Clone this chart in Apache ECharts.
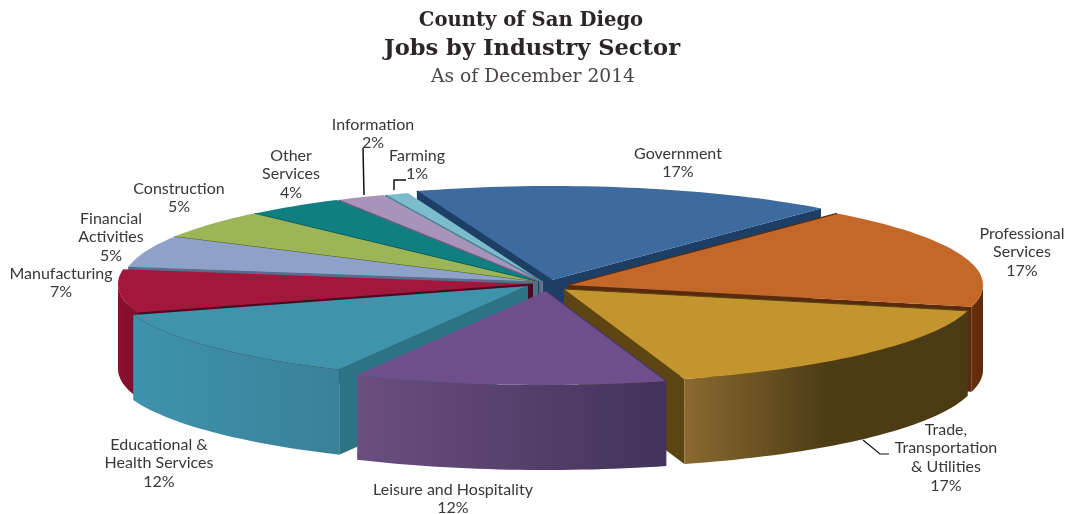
<!DOCTYPE html>
<html><head><meta charset="utf-8">
<style>html,body{margin:0;padding:0;background:#fff}#c{width:1068px;height:514px}</style>
<script src="https://cdn.jsdelivr.net/npm/echarts@6/dist/echarts.min.js"></script>
</head><body><div id="c"></div>
<script>
// ---- data ----
const sectors = ['Government','Professional Services','Trade, Transportation & Utilities','Leisure and Hospitality','Educational & Health Services','Manufacturing','Financial Activities','Construction','Other Services','Information','Farming'];
const shares = [16.5,17.49,16.6,12.2,12.49,7.49,5.49,5,3.9,1.9,0.93];
const labelTexts = ['Government\n17%','Professional\nServices\n17%','Trade,\nTransportation\n& Utilities\n17%','Leisure and Hospitality\n12%','Educational &\nHealth Services\n12%','Manufacturing\n7%','Financial\nActivities\n5%','Construction\n5%','Other\nServices\n4%','Information\n2%','Farming\n1%'];
// ---- styling ----
const topColors = ['#3d6b9f','#c4682a','#c2952e','#6e4f8c','#3f93ab','#a3173c','#8ea1c9','#9bb557','#0f7f82','#a893bb','#7dbccd'];
const cutColors = ['#1d3f66','#5a2a0c','#5c4512','#4a3660','#2c7386','#4a0a20','#5a6c8c','#4d5f20','#0a5052','#6e5c80','#4d8494'];
const wallStops = [
 ['#2a4e78','#2a4e78'],['#6a300c','#5a2a0c'],['#8a6a30','#4d3d15','#4b3b14'],['#6a4f80','#43325a'],
 ['#3f92ad','#398199'],['#8c1030','#7c0e2a'],['#5a6c8c','#5a6c8c'],['#4d5f20','#4d5f20'],['#0a5052','#0a5052'],['#6e5c80','#6e5c80'],['#4d8494','#4d8494']];
const apexX = [552,568,564,546,528,533,538,538,539,541,543];
const apexY = [280,285,289,291,286,284,282,282,282,282,282];
const drawOrder = [0,10,9,8,7,6,5,1,4,2,3];
const labelX = [678,1022,946,453,159,61,111,179,291,373,417];
const labelY = [144,224,420,480,435,264,209,179,146,115,146];
const rx = 415, ry = 94, depth = 85, startAngle = -19;
const total = shares.reduce((a,b)=>a+b,0);
const angles = []; { let c = startAngle; shares.forEach(v=>{ angles.push([c, c+v/total*360]); c += v/total*360; }); }
const rad = d => d*Math.PI/180;
function edge(i,t,dy){ return [apexX[i]+rx*Math.sin(rad(t)), apexY[i]-ry*Math.cos(rad(t))+(dy||0)]; }
function arc(i,a,b,dy){ const out=[]; const n=Math.max(2,Math.ceil((b-a)/1.5)); for(let k=0;k<=n;k++) out.push(edge(i,a+(b-a)*k/n,dy)); return out; }
function renderSlice(params, api){
  const i = api.value(0);
  const [a,b] = angles[i];
  const ax=apexX[i], ay=apexY[i];
  const kids=[];
  const cut=t=>{const e=edge(i,t);return {type:'polygon',shape:{points:[[ax,ay],e,[e[0],e[1]+depth],[ax,ay+depth]]},style:{fill:cutColors[i]}};};
  if(Math.sin(rad(a))<0) kids.push(cut(a));
  if(Math.sin(rad(b))>0) kids.push(cut(b));
  const wa=Math.max(a,90), wb=Math.min(b,270);
  if(wb>wa){
    const up=arc(i,wa,wb,0), down=arc(i,wa,wb,depth).reverse();
    const st=wallStops[i];
    const stops = st.map((c,k)=>({offset:k/(st.length-1),color:c}));
    kids.push({type:'polygon',shape:{points:up.concat(down)},style:{fill:new echarts.graphic.LinearGradient(0,0,1,0,stops)}});
  }
  kids.push({type:'polygon',shape:{points:[[ax,ay]].concat(arc(i,a,b,0))},style:{fill:topColors[i]}});
  kids.push({type:'polyline',shape:{points:[[ax,ay],edge(i,a)]},style:{stroke:cutColors[i],lineWidth:1.2,fill:'none'}});
  return {type:'group',children:kids};
}
const chart = echarts.init(document.getElementById('c'));
const labelFont = 'Lato';
chart.setOption({
  animation:false,
  backgroundColor:'#fff',
  title:[
    {text:'County of San Diego',left:526,top:6,textAlign:'center',textStyle:{fontFamily:'DejaVu Serif',fontWeight:'bold',fontSize:19.6,color:'#2a2526'}},
    {text:'Jobs by Industry Sector',left:527,top:33,textAlign:'center',textStyle:{fontFamily:'DejaVu Serif',fontWeight:'bold',fontSize:22.6,color:'#2a2526'}},
    {text:'As of December 2014',left:528,top:63,textAlign:'center',textStyle:{fontFamily:'DejaVu Serif',fontWeight:'normal',fontSize:18.7,color:'#4a4546'}}
  ],
  series:[{
    type:'custom',coordinateSystem:'none',renderItem:renderSlice,silent:true,
    data:drawOrder.map(i=>({name:sectors[i],value:[i,shares[i]]}))
  }],
  graphic:[
    ...labelTexts.map((t,i)=>({type:'text',x:labelX[i],y:labelY[i],silent:true,style:{text:t,align:'center',verticalAlign:'top',font:'16px '+labelFont,lineHeight:18.7,fill:'#3a3637'}})),
    {type:'polyline',silent:true,shape:{points:[[363,148],[364,195]]},style:{stroke:'#111',lineWidth:1.5,fill:'none'}},
    {type:'polyline',silent:true,shape:{points:[[394,190],[394,180],[406,180]]},style:{stroke:'#111',lineWidth:1.5,fill:'none'}},
    {type:'polyline',silent:true,shape:{points:[[863,440],[880,454],[889,454]]},style:{stroke:'#111',lineWidth:1.2,fill:'none'}}
  ]
});
</script></body></html>
